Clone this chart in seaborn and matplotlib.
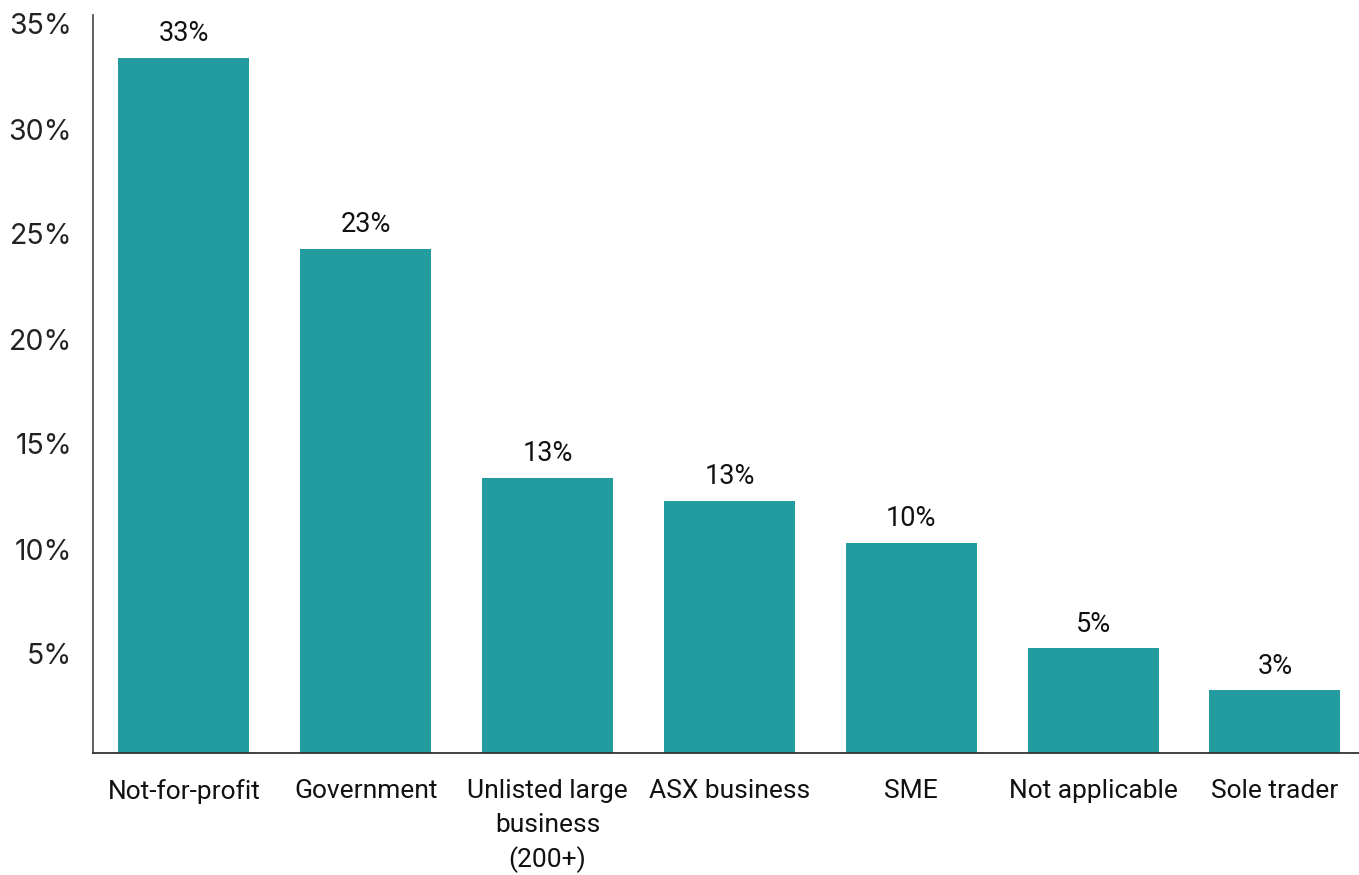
import matplotlib
matplotlib.use("Agg")
import matplotlib.pyplot as plt
import seaborn as sns
import pandas as pd

categories = ["Not-for-profit", "Government", "Unlisted large\nbusiness\n(200+)",
              "ASX business", "SME", "Not applicable", "Sole trader"]
values = [33.1, 24.0, 13.1, 12.0, 10.0, 5.0, 3.0]
value_labels = ["33%", "23%", "13%", "13%", "10%", "5%", "3%"]
ytick_values = [5, 10, 15, 20, 25, 30, 35]
ytick_labels = ["5%", "10%", "15%", "20%", "25%", "30%", "35%"]

sns.set_theme(style="white")
plt.rcParams["font.family"] = ["Roboto", "DejaVu Sans"]

df = pd.DataFrame({"category": categories, "value": values})

fig = plt.figure(figsize=(13.59, 8.75), dpi=100)
ax = fig.add_axes([93 / 1359, 1 - 753 / 875, 1 - 93 / 1359 + 0.005, (753 - 15) / 875])

sns.barplot(data=df, x="category", y="value", color="#239C9F", saturation=1,
            width=0.72, ax=ax, linewidth=0)

ax.set_xlim(-0.5, 6.5)
ax.set_ylim(0, (753 - 15) / 21.0)
ax.set_xlabel("")
ax.set_ylabel("")

# y tick labels drawn slightly below their tick positions, as in the reference
ax.set_yticks(ytick_values)
ax.set_yticklabels([])
ytrans = ax.get_yaxis_transform()
for v, t in zip(ytick_values, ytick_labels):
    ax.annotate(t, xy=(0, v), xycoords=ytrans, xytext=(-21, -9), textcoords="offset pixels",
                ha="right", va="center", fontsize=20.5, color="#222222",
                family=["Inter", "DejaVu Sans"], annotation_clip=False)
ax.tick_params(axis="y", length=0)
ax.tick_params(axis="x", length=0, pad=19)
for lab in ax.get_xticklabels():
    lab.set_fontsize(19)
    lab.set_color("#111111")
    lab.set_linespacing(1.48)
    lab.set_verticalalignment("top")

for i, (v, t) in enumerate(zip(values, value_labels)):
    ax.annotate(t, xy=(i, v), xytext=(0, 24), textcoords="offset pixels",
                ha="center", va="center", fontsize=19.5, color="#111111")

for s in ["top", "right"]:
    ax.spines[s].set_visible(False)
ax.spines["left"].set_color("#555555")
ax.spines["left"].set_linewidth(1.3)
ax.spines["bottom"].set_color("#333333")
ax.spines["bottom"].set_linewidth(1.3)
ax.grid(False)

fig.savefig("out.png", dpi=100)
